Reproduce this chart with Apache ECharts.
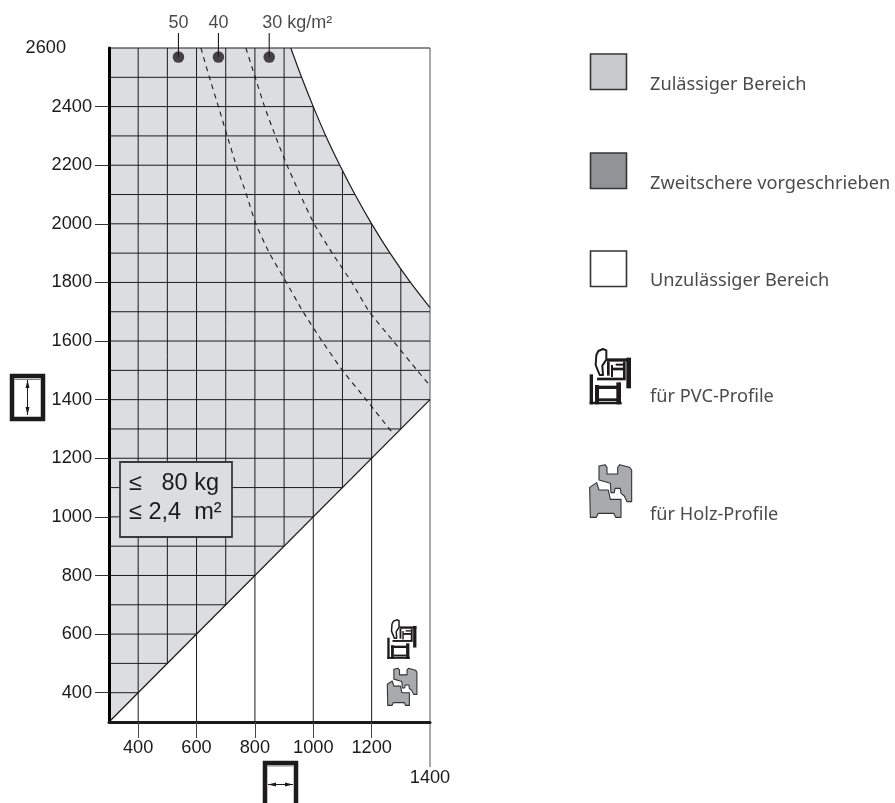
<!DOCTYPE html>
<html><head><meta charset="utf-8">
<style>html,body{margin:0;padding:0;background:#fff}#c{width:895px;height:803px}</style>
<script src="https://cdn.jsdelivr.net/npm/echarts@6/dist/echarts.min.js"></script>
</head><body><div id="c"></div>
<script>
// --- data ---
const xTickValues = [400,600,800,1000,1200,1400];
const yTickValues = [400,600,800,1000,1200,1400,1600,1800,2000,2200,2400,2600];
// vertical grid lines: x, upper end, lower end
const vLineX    = [400,500,600,700,800,900,1000,1100,1200,1300,1400];
const vLineTop  = [2600,2600,2600,2600,2600,2600,2400,2182,2000,1846,2600];
const vLineBot  = [300,500,300,700,300,900,300,1100,300,1300,300];
// horizontal grid lines: y, right end
const hLineY    = [400,500,600,700,800,900,1000,1100,1200,1300,1400,1500,1600,1700,1800,1900,2000,2100,2200,2300,2400,2500,2600];
const hLineEnd  = [400,500,600,700,800,900,1000,1100,1200,1300,1400,1400,1400,1400,1333,1263,1200,1143,1091,1043,1000,960,1400];
// boundary of the permitted region
const limitX = [923,960,1000,1043,1091,1143,1200,1263,1333,1400];
const limitY = [2600,2500,2400,2300,2200,2100,2000,1900,1800,1714];
const diagX  = [300,1400];
const diagY  = [300,1400];
// kg/m2 curves
const curve40X = [769,801,833,870,910,955,1003,1065,1132,1192,1274,1356,1400];
const curve40Y = [2600,2500,2400,2300,2200,2100,2000,1900,1800,1700,1600,1500,1448];
const curve50X = [615,644,675,705,736,771,803,850,908,965,1030,1100,1181,1269];
const curve50Y = [2600,2500,2400,2300,2200,2100,2000,1900,1800,1700,1600,1500,1400,1290];
// markers
const dotX = [538,675,849];
const dotY = [2569,2569,2569];
const dotTopY = 2651;
const dotLabels = ['50','40','30 kg/m²'];
// legend
const legendLabels = ['Zulässiger Bereich','Zweitschere vorgeschrieben','Unzulässiger Bereich','für PVC-Profile','für Holz-Profile'];
const legendColors = ['#c8cacc','#929396','#ffffff'];
const boxLines = ['≤   80 kg','≤ 2,4  m²'];

const ink = '#1d1a1b', area = '#dcdde0';
const lineBase = {type:'line',symbol:'none',silent:true,animation:false,clip:false,z:3};
function seg(a,b,w,c,extra){return Object.assign({},lineBase,{data:[a,b],lineStyle:{color:c||ink,width:w||1}},extra||{});}
const series = [];
// permitted area
const regionPts = limitX.map((x,i)=>[x,limitY[i]]).concat([[1400,1400]],[[300,300]],[[300,2600]]);
series.push({type:'custom',silent:true,animation:false,z:1,data:[0],
  renderItem:(p,api)=>({type:'polygon',shape:{points:regionPts.map(q=>api.coord(q))},style:{fill:area}})});
vLineX.forEach((x,i)=>series.push(seg([x,vLineTop[i]],[x,vLineBot[i]],1,i===10?'#555':ink)));
hLineY.forEach((y,i)=>series.push(seg([300,y],[hLineEnd[i],y],1)));
series.push(Object.assign({},lineBase,{data:limitX.map((x,i)=>[x,limitY[i]]),smooth:0.3,lineStyle:{color:ink,width:1.2},z:4}));
series.push(Object.assign({},lineBase,{data:diagX.map((x,i)=>[x,diagY[i]]),lineStyle:{color:ink,width:1.3},z:4}));
[[curve40X,curve40Y],[curve50X,curve50Y]].forEach(c=>series.push(Object.assign({},lineBase,{
  data:c[0].map((x,i)=>[x,c[1][i]]),smooth:0.2,lineStyle:{color:ink,width:1.1,type:[5,4.5]},z:4})));
// long ticks for 2600 and 1400
series.push(seg([161,2600],[300,2600],1,'#555'));
series.push(seg([1400,300],[1400,146],1,'#555'));
// leaders and dots
dotX.forEach((x,i)=>series.push(seg([x,dotY[i]],[x,dotTopY],1.1)));
series.push({type:'scatter',silent:true,animation:false,symbolSize:11.5,z:5,clip:false,
  itemStyle:{color:ink},data:dotX.map((x,i)=>[x,dotY[i]])});

// --- annotations ---
const Z = 100;
const rect = (x,y,w,h,fill,stroke,lw)=>({type:'rect',z:Z,silent:true,shape:{x,y,width:w,height:h},style:{fill,stroke,lineWidth:lw||0}});
const line = (a,b,c,d,lw,col)=>({type:'line',z:Z+1,silent:true,shape:{x1:a,y1:b,x2:c,y2:d},style:{stroke:col||ink,lineWidth:lw||1}});
const poly = (pts,fill,stroke,lw)=>({type:'polygon',z:Z+1,silent:true,shape:{points:pts},style:{fill,stroke,lineWidth:lw||0,lineJoin:'round'}});
const txt = (s,x,y,size,font,col)=>({type:'text',z:Z+2,silent:true,x,y,style:{text:s,fontSize:size,fontFamily:font,fill:col,textAlign:'left',textVerticalAlign:'middle'}});
const g = [];
// condition box
g.push(rect(120,462,112,75,area,'#3a3a3c',1.8));
g.push(txt(boxLines[0],129,484,23.5,'Liberation Sans',ink));
g.push(txt(boxLines[1],129,513,23.5,'Liberation Sans',ink));
// legend swatches
const swY=[54,153,251];
legendColors.forEach((c,i)=>g.push(rect(590.5,swY[i],36,35.5,c,'#333436',1.6)));
const lgY=[84.5,183.5,281,397,514.5], lgFont='"Noto Sans"';
legendLabels.forEach((s,i)=>g.push(txt(s,650,lgY[i],18.2,lgFont,'#4b4b4d')));
// window icons
g.push(rect(12,376,31,43,'#fff',ink,4.5));
g.push(line(14.5,379.5,40.5,379.5,1,'#888'));
g.push(line(27.5,380,27.5,415,1,ink));
g.push(poly([[27.5,380],[25.5,388],[29.5,388]],ink));
g.push(poly([[27.5,415],[25.5,407],[29.5,407]],ink));
g.push(rect(265,763,31,45,'#fff',ink,4.5));
g.push(line(267.5,766,293.5,766,1,'#888'));
g.push(line(268,784.5,293,784.5,1,ink));
g.push(poly([[268,784.5],[276,782.5],[276,786.5]],ink));
g.push(poly([[293,784.5],[285,782.5],[285,786.5]],ink));
// profile icons
const woodUp=[[42,18],[60,14],[66,22],[66,42],[98,42],[98,22],[104,14],[134,22],[140,30],[140,125],[126,125],[118,108],[108,100],[106,85],[90,85],[88,98],[78,98],[76,70],[42,60]];
const woodLo=[[14,82],[35,68],[42,90],[70,90],[76,118],[108,118],[108,172],[92,172],[86,160],[40,160],[34,172],[16,172]];
const pvcOutl=[[[34,30],[40,18],[54,12],[64,16],[64,44],[52,62],[54,90],[44,90],[32,60]]];
const pvcRects=[[14,88,10,90],[30,120,12,58],[14,170,96,8],[30,122,66,10],[42,160,54,8],[94,112,14,66],[124,38,14,92],[66,40,72,10],[66,50,8,42],[82,68,36,8],[78,60,6,36],[114,50,8,50],[36,98,86,8],[92,56,22,6]];
function wood(ox,oy,k){const m=p=>[ox+p[0]*k,oy+p[1]*k];
  g.push(poly(woodUp.map(m),'#a9aaac','#333',1.1));
  g.push(poly(woodLo.map(m),'#a9aaac','#333',1.1));}
function pvc(ox,oy,k){
  pvcOutl.forEach(o=>g.push(poly(o.map(p=>[ox+p[0]*k,oy+p[1]*k]),'none',ink,k>0.28?2:1.5)));
  pvcRects.forEach(r=>{const e=rect(ox+r[0]*k,oy+r[1]*k,r[2]*k,r[3]*k,ink,'none',0);e.z=Z+1;g.push(e);});}
pvc(585,345,1/3); wood(585,460,1/3);
pvc(384,617,0.235); wood(384,665,0.235);

const axisFont = {color:ink,fontFamily:'Liberation Sans',fontSize:18.2};
const option = {
  animation:false,backgroundColor:'#fff',
  grid:{left:109,right:465,top:48,bottom:81,containLabel:false,outerBoundsMode:'none'},
  xAxis:{type:'value',min:300,max:1400,z:10,
    axisLine:{show:true,onZero:false,lineStyle:{color:ink,width:3}},
    splitLine:{show:false},
    axisTick:{show:true,length:16,lineStyle:{color:'#444',width:1},customValues:xTickValues.slice(0,5)},
    axisLabel:Object.assign({},axisFont,{margin:17,customValues:xTickValues,hideOverlap:false,showMinLabel:true,showMaxLabel:true,
      formatter:v=>v===1400?'{far|'+v+'}':''+v,
      rich:{far:Object.assign({},axisFont,{padding:[30,0,0,0]})}})},
  yAxis:{type:'value',min:300,max:2600,z:10,
    axisLine:{show:true,onZero:false,lineStyle:{color:'#000',width:3}},
    splitLine:{show:false},
    axisTick:{show:true,length:14,lineStyle:{color:'#333',width:1},customValues:yTickValues.slice(0,11)},
    axisLabel:Object.assign({},axisFont,{margin:17,customValues:yTickValues,hideOverlap:false,showMinLabel:true,showMaxLabel:true,
      formatter:v=>v===2600?'{far|'+v+'}':''+v,
      rich:{far:Object.assign({},axisFont,{padding:[0,26,0,0]})}})},
  series,
  graphic:{elements:g}
};
// top labels attached to the leader tops
option.series.push({type:'scatter',silent:true,animation:false,symbolSize:0,clip:false,z:6,
  data:dotX.map((x,i)=>({value:[x,dotTopY],label:{show:true,position:'top',distance:1,formatter:dotLabels[i],
    offset:i===2?[28,0]:[0,0],color:ink,fontFamily:'Liberation Sans',fontSize:18}}))});
echarts.init(document.getElementById('c'),null,{renderer:'canvas'}).setOption(option);
</script></body></html>
